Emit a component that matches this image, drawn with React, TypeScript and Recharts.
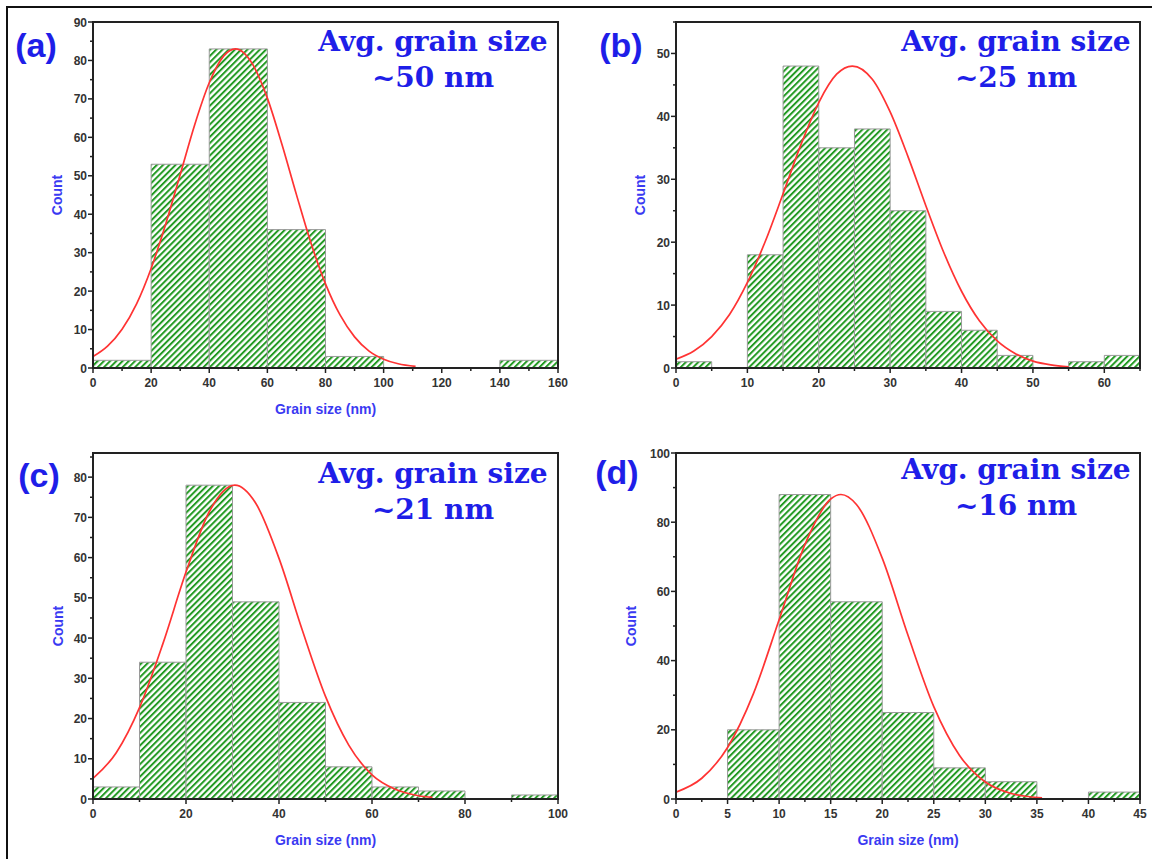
import React from "react"
import { ComposedChart, Line, XAxis, YAxis, ReferenceArea } from "recharts"

// (a) ~50 nm
const binStartA = [0, 20, 40, 60, 80, 100, 120, 140]
const countA = [2, 53, 83, 36, 3, 0, 0, 2]
const fitXA = [0, 5, 10, 15, 20, 25, 30, 35, 40, 45, 49, 55, 60, 65, 70, 75, 80, 85, 90, 95, 100, 105, 111]
const fitYA = [3.0, 5.7, 10.1, 16.7, 25.9, 37.4, 50.3, 63.3, 74.2, 81.2, 83, 78.9, 70.2, 58.2, 45.1, 32.5, 21.9, 13.8, 8.1, 4.4, 2.3, 1.1, 0.4]
const xTicksA = [0, 10, 20, 30, 40, 50, 60, 70, 80, 90, 100, 110, 120, 130, 140, 150, 160]
const xLabelsA = [0, 20, 40, 60, 80, 100, 120, 140, 160]
const yTicksA = [0, 5, 10, 15, 20, 25, 30, 35, 40, 45, 50, 55, 60, 65, 70, 75, 80, 85, 90]
const yLabelsA = [0, 10, 20, 30, 40, 50, 60, 70, 80, 90]

// (b) ~25 nm
const binStartB = [0, 5, 10, 15, 20, 25, 30, 35, 40, 45, 50, 55, 60]
const countB = [1, 0, 18, 48, 35, 38, 25, 9, 6, 2, 0, 1, 2]
const fitXB = [0, 2.5, 5, 7.5, 10, 12.5, 15, 17.5, 20, 22.5, 24.7, 27.5, 30, 32.5, 35, 37.5, 40, 42.5, 45, 47.5, 50, 52.5, 55]
const fitYB = [1.4, 2.7, 5.0, 8.5, 13.6, 20.1, 27.7, 35.5, 42.2, 46.7, 48, 45.9, 40.7, 33.6, 25.8, 18.4, 12.2, 7.5, 4.3, 2.3, 1.1, 0.5, 0.2]
const xTicksB = [0, 5, 10, 15, 20, 25, 30, 35, 40, 45, 50, 55, 60, 65]
const xLabelsB = [0, 10, 20, 30, 40, 50, 60]
const yTicksB = [0, 5, 10, 15, 20, 25, 30, 35, 40, 45, 50, 55]
const yLabelsB = [0, 10, 20, 30, 40, 50]

// (c) ~21 nm
const binStartC = [0, 10, 20, 30, 40, 50, 60, 70, 80, 90]
const countC = [3, 34, 78, 49, 24, 8, 3, 2, 0, 1]
const fitXC = [0, 5, 10, 15, 20, 25, 30.5, 35, 40, 45, 50, 55, 60, 65, 70, 73]
const fitYC = [5.1, 11.5, 22.7, 38.5, 56.4, 71.4, 78, 73.5, 59.8, 42.0, 25.5, 13.4, 6.0, 2.4, 0.8, 0.4]
const xTicksC = [0, 10, 20, 30, 40, 50, 60, 70, 80, 90, 100]
const xLabelsC = [0, 20, 40, 60, 80, 100]
const yTicksC = [0, 5, 10, 15, 20, 25, 30, 35, 40, 45, 50, 55, 60, 65, 70, 75, 80, 85]
const yLabelsC = [0, 10, 20, 30, 40, 50, 60, 70, 80]

// (d) ~16 nm
const binStartD = [0, 5, 10, 15, 20, 25, 30, 35, 40]
const countD = [0, 20, 88, 57, 25, 9, 5, 0, 2]
const fitXD = [0, 2.5, 5, 7.5, 10, 12.5, 15, 16, 17.5, 20, 22.5, 25, 27.5, 30, 32.5, 35.5]
const fitYD = [2.0, 6.0, 14.9, 30.4, 51.8, 73.5, 86.7, 88, 85.1, 69.6, 47.3, 26.7, 12.6, 4.9, 1.6, 0.3]
const xTicksD = [0, 2.5, 5, 7.5, 10, 12.5, 15, 17.5, 20, 22.5, 25, 27.5, 30, 32.5, 35, 37.5, 40, 42.5, 45]
const xLabelsD = [0, 5, 10, 15, 20, 25, 30, 35, 40, 45]
const yTicksD = [0, 10, 20, 30, 40, 50, 60, 70, 80, 90, 100]
const yLabelsD = [0, 20, 40, 60, 80, 100]

const FONT = "'Liberation Sans', Arial, sans-serif"
const AXIS = "#222"
const TICK_TEXT = "#333"
const TITLE_BLUE = "#3a3af2"
const LABEL_BLUE = "#1e1ee8"

function AxisTick(props: any) {
  const { x, y, payload, axis, majors } = props
  const v = payload.value
  const major = majors.includes(v)
  if (axis === "y") {
    return (
      <g>
        <line x1={x} x2={x - (major ? 5 : 3)} y1={y} y2={y} stroke={AXIS} strokeWidth={1.5} />
        {major && (
          <text x={x - 6} y={y} dy={4.5} textAnchor="end" fontFamily={FONT} fontWeight="bold" fontSize={12} fill={TICK_TEXT}>
            {v}
          </text>
        )}
      </g>
    )
  }
  return (
    <g>
      <line x1={x} x2={x} y1={y} y2={y + (major ? 5 : 3)} stroke={AXIS} strokeWidth={1.5} />
      {major && (
        <text x={x} y={y} dy={19} textAnchor="middle" fontFamily={FONT} fontWeight="bold" fontSize={12} fill={TICK_TEXT}>
          {v}
        </text>
      )}
    </g>
  )
}

interface PanelProps {
  left: number
  top: number
  right: number
  bottom: number
  yAxisWidth: number
  xDomain: [number, number]
  yDomain: [number, number]
  xTicks: number[]
  xLabels: number[]
  yTicks: number[]
  yLabels: number[]
  binStart: number[]
  binWidth: number
  count: number[]
  fitX: number[]
  fitY: number[]
  xTitle?: string
}

function HistPanel(p: PanelProps) {
  const xH = 82
  const mL = 5
  const mT = 10
  const mR = 10
  const mB = 5
  const w = p.right - p.left + p.yAxisWidth + mL + mR
  const h = p.bottom - p.top + xH + mT + mB
  const data = p.fitX.map((x, i) => ({ x, fit: p.fitY[i] }))
  const titleStyle = { fill: TITLE_BLUE, fontSize: 14, fontWeight: "bold", fontFamily: FONT }
  return (
    <div style={{ position: "absolute", left: p.left - p.yAxisWidth - mL, top: p.top - mT }}>
      <ComposedChart width={w} height={h} data={data} margin={{ top: mT, right: mR, bottom: mB, left: mL }}>
        <XAxis
          dataKey="x"
          type="number"
          domain={p.xDomain}
          ticks={p.xTicks}
          interval={0}
          height={xH}
          tickSize={0}
          tickMargin={0}
          tickLine={false}
          axisLine={{ stroke: AXIS, strokeWidth: 2 }}
          tick={<AxisTick axis="x" majors={p.xLabels} />}
          allowDataOverflow
          label={p.xTitle ? { value: p.xTitle, position: "center", ...titleStyle } : undefined}
        />
        <YAxis
          type="number"
          domain={p.yDomain}
          ticks={p.yTicks}
          interval={0}
          width={p.yAxisWidth}
          tickSize={0}
          tickMargin={0}
          tickLine={false}
          axisLine={{ stroke: AXIS, strokeWidth: 2 }}
          tick={<AxisTick axis="y" majors={p.yLabels} />}
          allowDataOverflow
          label={{ value: "Count", angle: -90, position: "center", ...titleStyle }}
        />
        {p.binStart.map((b, i) =>
          p.count[i] > 0 ? (
            <ReferenceArea
              key={i}
              x1={b}
              x2={b + p.binWidth}
              y1={0}
              y2={p.count[i]}
              fill="url(#hatch)"
              fillOpacity={1}
              stroke="#9a9a9a"
              strokeWidth={1}
            />
          ) : null
        )}
        <ReferenceArea
          x1={p.xDomain[0]}
          x2={p.xDomain[1]}
          y1={p.yDomain[0]}
          y2={p.yDomain[1]}
          fill="none"
          fillOpacity={0}
          stroke={AXIS}
          strokeWidth={2}
        />
        <Line dataKey="fit" type="monotone" stroke="#ff3333" strokeWidth={1.7} dot={false} isAnimationActive={false} />
      </ComposedChart>
    </div>
  )
}

function Note({ cx, cy, label, lx, ly, size }: { cx: number; cy: number; label: string; lx: number; ly: number; size: string }) {
  return (
    <>
      <div
        style={{
          position: "absolute",
          left: lx - 40,
          top: ly - 20,
          width: 80,
          height: 40,
          lineHeight: "40px",
          textAlign: "center",
          fontFamily: FONT,
          fontWeight: "bold",
          fontSize: 34,
          color: LABEL_BLUE,
        }}
      >
        {label}
      </div>
      <div
        style={{
          position: "absolute",
          left: cx - 160,
          top: cy - 18,
          width: 320,
          lineHeight: "36px",
          textAlign: "center",
          fontFamily: "'DejaVu Serif', serif",
          fontWeight: "bold",
          fontSize: 28,
          color: LABEL_BLUE,
        }}
      >
        <div>Avg. grain size</div>
        <div>{size}</div>
      </div>
    </>
  )
}

export default function App() {
  return (
    <div style={{ position: "absolute", left: 0, top: 0, width: 1152, height: 859, background: "#fff", overflow: "hidden" }}>
      <svg width={0} height={0} style={{ position: "absolute" }}>
        <defs>
          <pattern id="hatch" patternUnits="userSpaceOnUse" width={4.4} height={4.4} patternTransform="rotate(45)">
            <rect width={4.4} height={4.4} fill="#ffffff" />
            <rect width={2} height={4.4} fill="#239a23" />
          </pattern>
        </defs>
      </svg>
      <div style={{ position: "absolute", left: 6, top: 6, width: 1160, height: 870, borderTop: "2px solid #111", borderLeft: "2px solid #111" }} />

      <HistPanel
        left={93} top={22} right={558} bottom={368} yAxisWidth={72}
        xDomain={[0, 160]} yDomain={[0, 90]}
        xTicks={xTicksA} xLabels={xLabelsA} yTicks={yTicksA} yLabels={yLabelsA}
        binStart={binStartA} binWidth={20} count={countA} fitX={fitXA} fitY={fitYA}
        xTitle="Grain size (nm)"
      />
      <HistPanel
        left={676} top={22} right={1140} bottom={368} yAxisWidth={72}
        xDomain={[0, 65]} yDomain={[0, 55]}
        xTicks={xTicksB} xLabels={xLabelsB} yTicks={yTicksB} yLabels={yLabelsB}
        binStart={binStartB} binWidth={5} count={countB} fitX={fitXB} fitY={fitYB}
      />
      <HistPanel
        left={93} top={453} right={558} bottom={799} yAxisWidth={70}
        xDomain={[0, 100]} yDomain={[0, 86]}
        xTicks={xTicksC} xLabels={xLabelsC} yTicks={yTicksC} yLabels={yLabelsC}
        binStart={binStartC} binWidth={10} count={countC} fitX={fitXC} fitY={fitYC}
        xTitle="Grain size (nm)"
      />
      <HistPanel
        left={676} top={453} right={1140} bottom={799} yAxisWidth={90}
        xDomain={[0, 45]} yDomain={[0, 100]}
        xTicks={xTicksD} xLabels={xLabelsD} yTicks={yTicksD} yLabels={yLabelsD}
        binStart={binStartD} binWidth={5} count={countD} fitX={fitXD} fitY={fitYD}
        xTitle="Grain size (nm)"
      />

      <Note label="(a)" lx={36} ly={45} cx={433} cy={42} size="~50 nm" />
      <Note label="(b)" lx={621} ly={45} cx={1016} cy={42} size="~25 nm" />
      <Note label="(c)" lx={39} ly={475} cx={433} cy={474} size="~21 nm" />
      <Note label="(d)" lx={617} ly={472} cx={1016} cy={470} size="~16 nm" />
    </div>
  )
}
